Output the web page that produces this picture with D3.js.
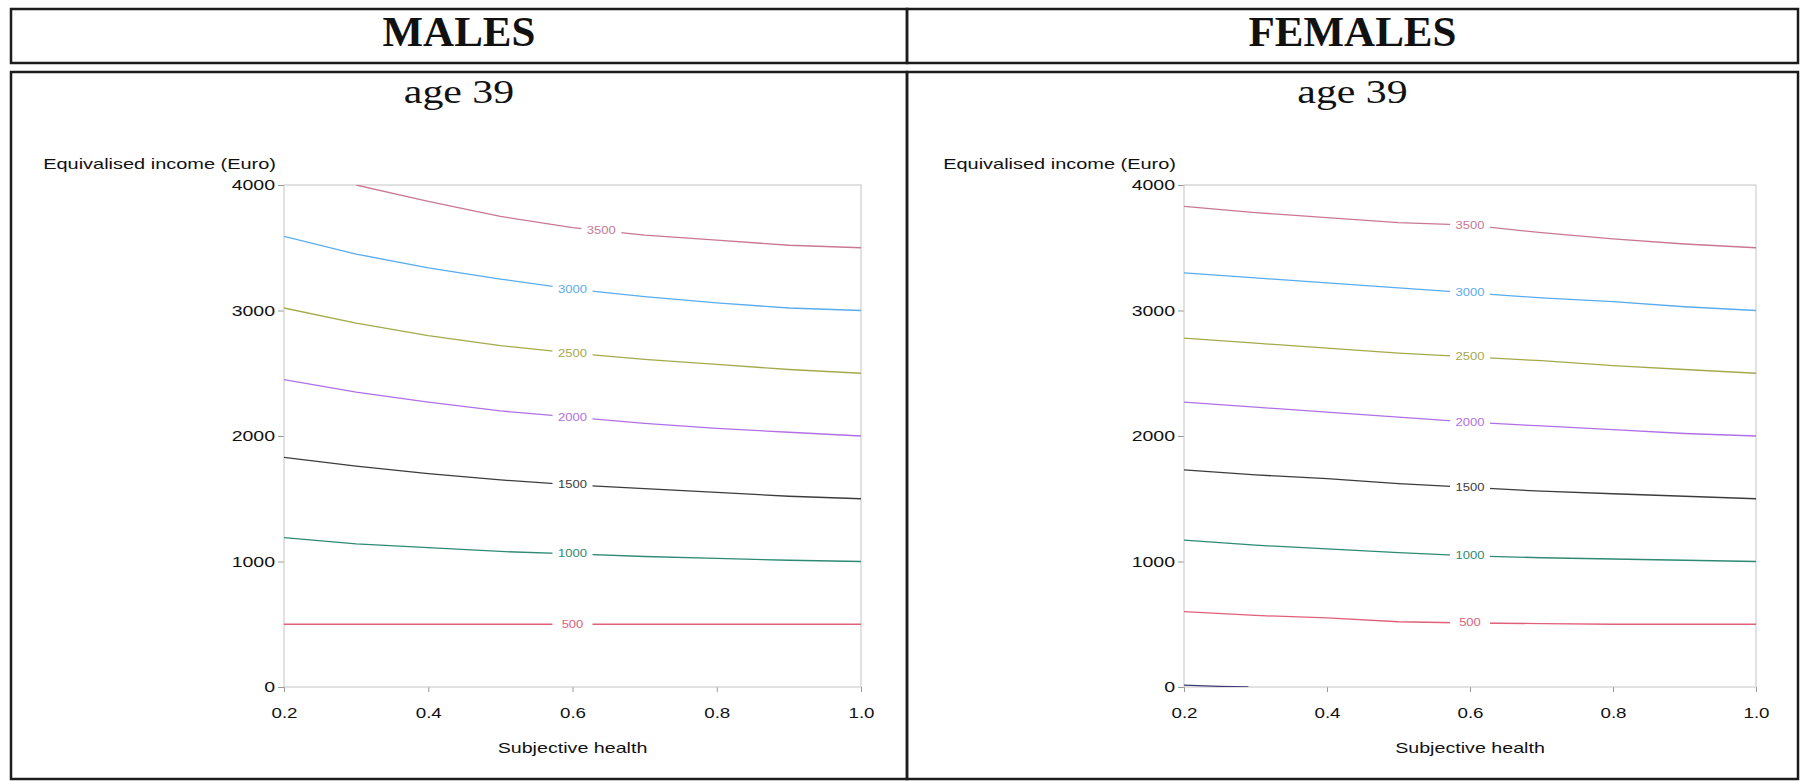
<!DOCTYPE html>
<html lang="en">
<head>
<meta charset="UTF-8">
<title>age 39 contours</title>
<script src="https://cdn.jsdelivr.net/npm/d3@7"></script>
<style>
    body { margin: 0; background: #fff; }
    svg { display: block; }
    text { font-family: "Liberation Sans", Arial, sans-serif; }
    .frame { fill: none; stroke: #c4c4c4; stroke-width: 1; }
    .cell { fill: none; stroke: #1c1c1c; stroke-width: 2.5; }
    .contour { fill: none; stroke-width: 1.3; }
</style>
</head>
<body>
<div id="chart"></div>
<script>
    // subjective health grid and tick values
    const health = [0.2, 0.3, 0.4, 0.5, 0.6, 0.7, 0.8, 0.9, 1.0];
    const xTicks = [0.2, 0.4, 0.6, 0.8, 1.0];
    const yTicks = [0, 1000, 2000, 3000, 4000];
    const levels = [500, 1000, 1500, 2000, 2500, 3000, 3500];
    const levelColors = ["#e0607a", "#2e8a74", "#3c3c3c", "#b070e6", "#a4aa4c", "#5aacee", "#c87892"];

    // males, age 39 : income along each contour
    const male500  = [500, 500, 500, 500, 500, 500, 500, 500, 500];
    const male1000 = [1190, 1140, 1110, 1080, 1060, 1040, 1025, 1010, 1000];
    const male1500 = [1830, 1760, 1700, 1650, 1610, 1580, 1550, 1520, 1500];
    const male2000 = [2450, 2350, 2270, 2200, 2150, 2100, 2060, 2030, 2000];
    const male2500 = [3020, 2900, 2800, 2720, 2660, 2610, 2570, 2530, 2500];
    const male3000 = [3590, 3450, 3340, 3250, 3170, 3110, 3060, 3020, 3000];
    const male3500 = [null, 4000, 3870, 3750, 3660, 3600, 3560, 3520, 3500];

    // females, age 39
    const female500  = [600, 570, 550, 520, 510, 505, 500, 500, 500];
    const female1000 = [1170, 1130, 1100, 1070, 1045, 1030, 1020, 1010, 1000];
    const female1500 = [1730, 1690, 1660, 1620, 1590, 1560, 1540, 1520, 1500];
    const female2000 = [2270, 2230, 2190, 2150, 2110, 2080, 2050, 2020, 2000];
    const female2500 = [2780, 2740, 2700, 2660, 2630, 2600, 2560, 2530, 2500];
    const female3000 = [3300, 3260, 3220, 3180, 3140, 3100, 3070, 3030, 3000];
    const female3500 = [3830, 3780, 3740, 3700, 3680, 3620, 3570, 3530, 3500];
    const female0X = [0.2, 0.25, 0.29];
    const female0  = [15, 5, 0];

    const width = 1805, height = 781;
    const plotTop = 185, plotBottom = 687;

    const panels = [
        { title: "MALES", left: 11, right: 907, plot: [284, 861],
          lines: [male500, male1000, male1500, male2000, male2500, male3000, male3500],
          labelAt: [0.6, 0.6, 0.6, 0.6, 0.6, 0.6, 0.64] },
        { title: "FEMALES", left: 907, right: 1798, plot: [1184, 1756],
          lines: [female500, female1000, female1500, female2000, female2500, female3000, female3500],
          labelAt: [0.6, 0.6, 0.6, 0.6, 0.6, 0.6, 0.6],
          extra: { xs: female0X, ys: female0, color: "#3c3c78" } }
    ];

    const svg = d3.select("#chart").append("svg")
        .attr("width", width)
        .attr("height", height);

    function stretch(sel, k) {
        sel.each(function () {
            const w = this.getComputedTextLength();
            d3.select(this).attr("textLength", w * k).attr("lengthAdjust", "spacingAndGlyphs");
        });
    }

    panels.forEach((p, pi) => {
        const cx = (p.left + p.right) / 2;

        // table cells
        svg.append("rect").attr("class", "cell")
            .attr("x", p.left).attr("y", 9)
            .attr("width", p.right - p.left).attr("height", 54);
        svg.append("rect").attr("class", "cell")
            .attr("x", p.left).attr("y", 72)
            .attr("width", p.right - p.left).attr("height", 707);

        svg.append("text")
            .attr("x", cx).attr("y", 46)
            .attr("text-anchor", "middle")
            .style("font-family", "'Liberation Serif', 'Times New Roman', serif")
            .style("font-weight", "bold")
            .style("font-size", "43px")
            .attr("fill", "#111")
            .text(p.title);

        svg.append("text")
            .attr("x", cx).attr("y", 103)
            .attr("text-anchor", "middle")
            .style("font-family", "'Liberation Serif', 'Times New Roman', serif")
            .style("font-size", "34px")
            .attr("fill", "#111")
            .text("age 39")
            .call(stretch, 1.23);

        const x = d3.scaleLinear().domain([0.2, 1.0]).range(p.plot);
        const y = d3.scaleLinear().domain([0, 4000]).range([plotBottom, plotTop]);

        const g = svg.append("g");

        g.append("clipPath").attr("id", "clip" + pi)
            .append("rect")
            .attr("x", x(0.2)).attr("y", y(4000))
            .attr("width", x(1.0) - x(0.2)).attr("height", y(0) - y(4000));

        const yAxis = d3.axisLeft(y)
            .tickValues(yTicks)
            .tickFormat(d3.format("d"))
            .tickSize(6)
            .tickPadding(3);

        const xAxis = d3.axisBottom(x)
            .tickValues(xTicks)
            .tickFormat(d3.format(".1f"))
            .tickSize(5);

        const ya = g.append("g").attr("transform", `translate(${x(0.2)},0)`).call(yAxis);
        const xa = g.append("g").attr("transform", `translate(0,${y(0)})`).call(xAxis);
        [ya, xa].forEach(a => {
            a.select(".domain").remove();
            a.selectAll(".tick line").attr("stroke", "#999");
            a.selectAll(".tick text")
                .attr("fill", "#111")
                .style("font-size", "15px");
        });
        xa.selectAll(".tick text").attr("y", 31).attr("dy", 0);
        ya.selectAll(".tick text").call(stretch, 1.3);
        xa.selectAll(".tick text").call(stretch, 1.25);

        g.append("rect").attr("class", "frame")
            .attr("x", x(0.2)).attr("y", y(4000))
            .attr("width", x(1.0) - x(0.2)).attr("height", y(0) - y(4000));

        g.append("text")
            .attr("x", x(0.2) - 8).attr("y", 169)
            .attr("text-anchor", "end")
            .style("font-size", "15px")
            .attr("fill", "#111")
            .text("Equivalised income (Euro)")
            .call(stretch, 1.33);

        g.append("text")
            .attr("x", x(0.6)).attr("y", 753)
            .attr("text-anchor", "middle")
            .style("font-size", "15px")
            .attr("fill", "#111")
            .text("Subjective health")
            .call(stretch, 1.31);

        const line = d3.line()
            .defined(d => d[1] != null)
            .x(d => x(d[0]))
            .y(d => y(d[1]));

        const lines = g.append("g").attr("clip-path", `url(#clip${pi})`);

        p.lines.forEach((vals, i) => {
            const pts = health.map((h, j) => [h, vals[j]]);
            lines.append("path")
                .attr("class", "contour")
                .attr("stroke", levelColors[i])
                .attr("d", line(pts));

            // contour label with a gap in the line
            const known = pts.filter(d => d[1] != null);
            const at = d3.scaleLinear().domain(known.map(d => d[0])).range(known.map(d => d[1]));
            const lx = x(p.labelAt[i]), ly = y(at(p.labelAt[i]));
            lines.append("rect")
                .attr("x", lx - 20).attr("y", ly - 5)
                .attr("width", 40).attr("height", 10)
                .attr("fill", "#fff");
            lines.append("text")
                .attr("x", lx).attr("y", ly)
                .attr("dy", "0.35em")
                .attr("text-anchor", "middle")
                .style("font-size", "10px")
                .attr("fill", levelColors[i])
                .text(levels[i])
                .call(stretch, 1.3);
        });

        if (p.extra) {
            lines.append("path")
                .attr("class", "contour")
                .attr("stroke", p.extra.color)
                .attr("d", line(p.extra.xs.map((h, j) => [h, p.extra.ys[j]])));
        }
    });
</script>
</body>
</html>
